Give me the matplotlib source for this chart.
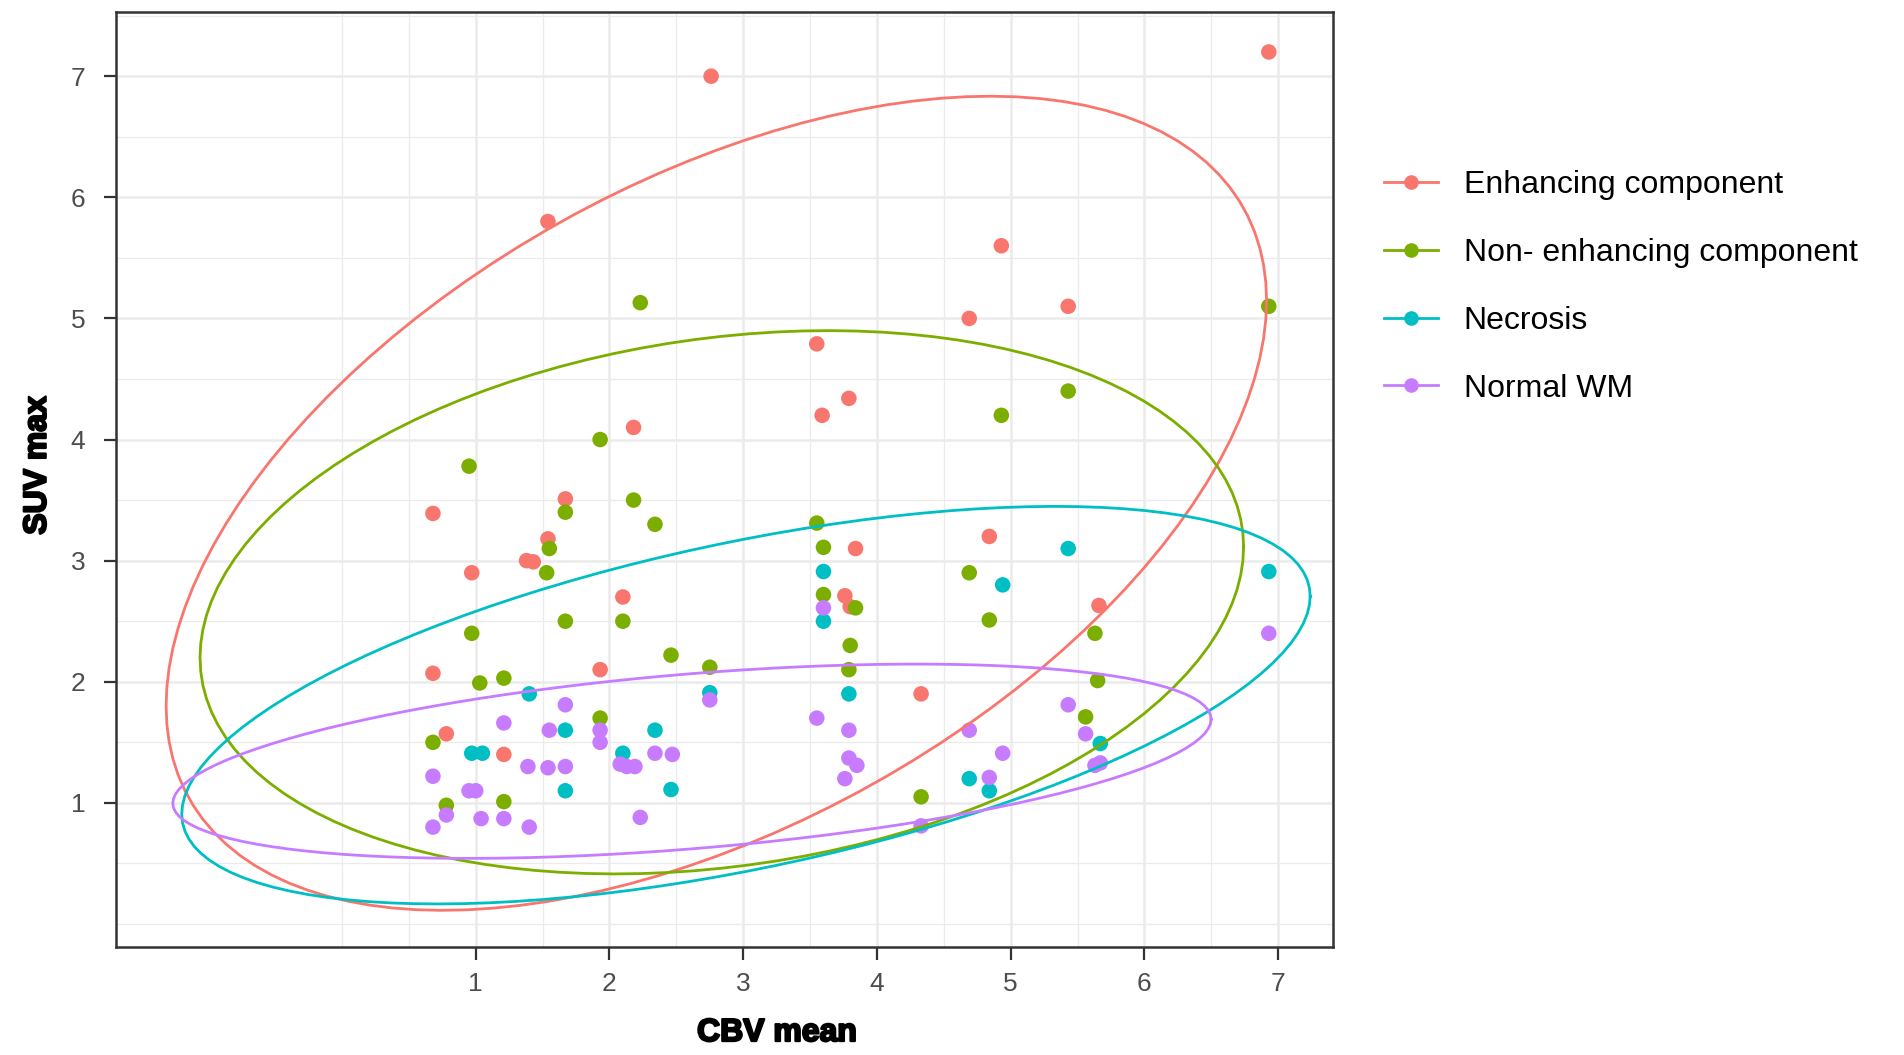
import numpy as np
import matplotlib
matplotlib.use("Agg")
import matplotlib.pyplot as plt
from matplotlib.lines import Line2D
import matplotlib.patheffects as pe

# ---------------- data ----------------
groups = ["Enhancing component", "Non- enhancing component", "Necrosis", "Normal WM"]
colors = ["#F8766D", "#7CAE00", "#00BFC4", "#C77CFF"]

enh_x = [0.68, 1.67, 1.54, 1.38, 1.43, 0.97, 2.10, 0.68, 1.93, 0.78, 1.21, 2.76, 6.93,
         1.54, 4.93, 4.69, 5.43, 3.55, 3.79, 3.59, 2.18, 3.84, 3.76, 3.80, 4.33, 4.84, 5.66]
enh_y = [3.39, 3.51, 3.18, 3.00, 2.99, 2.90, 2.70, 2.07, 2.10, 1.57, 1.40, 7.00, 7.20,
         5.80, 5.60, 5.00, 5.10, 4.79, 4.34, 4.20, 4.10, 3.10, 2.71, 2.62, 1.90, 3.20, 2.63]

non_x = [0.95, 1.67, 2.18, 2.34, 1.55, 1.53, 1.67, 2.10, 0.97, 2.46, 1.03, 1.21, 1.93,
         0.68, 0.78, 1.21, 2.23, 1.93, 3.55, 3.60, 3.60, 3.84, 3.80, 3.79, 2.75, 4.33,
         6.93, 5.43, 4.93, 4.69, 4.84, 5.63, 5.65, 5.56]
non_y = [3.78, 3.40, 3.50, 3.30, 3.10, 2.90, 2.50, 2.50, 2.40, 2.22, 1.99, 2.03, 1.70,
         1.50, 0.98, 1.01, 5.13, 4.00, 3.31, 3.11, 2.72, 2.61, 2.30, 2.10, 2.12, 1.05,
         5.10, 4.40, 4.20, 2.90, 2.51, 2.40, 2.01, 1.71]

nec_x = [1.40, 1.67, 2.34, 0.97, 1.05, 2.10, 1.67, 2.46, 3.60, 3.60, 3.79, 2.75, 5.43,
         4.94, 5.67, 4.69, 4.84, 6.93]
nec_y = [1.90, 1.60, 1.60, 1.41, 1.41, 1.41, 1.10, 1.11, 2.91, 2.50, 1.90, 1.91, 3.10,
         2.80, 1.49, 1.20, 1.10, 2.91]

wm_x = [1.67, 1.21, 1.55, 1.93, 1.93, 2.34, 2.47, 1.39, 1.54, 1.67, 2.08, 2.13, 2.19,
        0.68, 0.95, 1.00, 0.78, 0.68, 1.04, 1.21, 1.40, 2.23, 2.75, 3.60, 3.55, 3.79,
        3.79, 3.85, 3.76, 4.33, 4.69, 4.94, 4.84, 5.43, 5.56, 5.63, 5.67, 6.93]
wm_y = [1.81, 1.66, 1.60, 1.60, 1.50, 1.41, 1.40, 1.30, 1.29, 1.30, 1.32, 1.30, 1.30,
        1.22, 1.10, 1.10, 0.90, 0.80, 0.87, 0.87, 0.80, 0.88, 1.85, 2.61, 1.70, 1.60,
        1.37, 1.31, 1.20, 0.81, 1.60, 1.41, 1.21, 1.81, 1.57, 1.31, 1.33, 2.40]

xs = [enh_x, non_x, nec_x, wm_x]
ys = [enh_y, non_y, nec_y, wm_y]

x_breaks = [1, 2, 3, 4, 5, 6, 7]
y_breaks = [1, 2, 3, 4, 5, 6, 7]
x_limits = (-1.69, 7.41)
y_limits = (-0.19, 7.53)
x_title = "CBV mean"
y_title = "SUV max"


# ---------------- stat_ellipse (type = "t", level = 0.95) ----------------
def cov_trob(X, nu=5, maxit=25, tol=0.01):
    n, p = X.shape
    wt = np.ones(n)
    loc = X.mean(axis=0)
    w = np.sqrt(wt)
    Xc = X - loc
    for _ in range(maxit):
        w0 = w
        Xc = X - loc
        A = np.sqrt(w / w.sum())[:, None] * Xc
        _, d, Vt = np.linalg.svd(A, full_matrices=False)
        wX = Xc @ Vt.T @ np.diag(1.0 / d)
        Q = (wX ** 2).sum(axis=1)
        w = (wt * (nu + p)) / (nu + Q)
        loc = (w[:, None] * X).sum(axis=0) / w.sum()
        if np.all(np.abs(w - w0) < tol):
            break
    sw = np.sqrt(w)[:, None] * Xc
    cov = sw.T @ sw / wt.sum()
    return cov, loc


def ellipse_path(x, y, level=0.95, segments=120):
    X = np.column_stack([x, y]).astype(float)
    cov, center = cov_trob(X)
    R = np.linalg.cholesky(cov).T
    dfd = len(x) - 1
    fq = dfd / 2.0 * ((1 - level) ** (-2.0 / dfd) - 1)
    radius = np.sqrt(2 * fq)
    ang = np.arange(segments + 1) * 2 * np.pi / segments
    circ = np.column_stack([np.cos(ang), np.sin(ang)])
    return center + radius * (circ @ R)


ellipses = [ellipse_path(x, y) for x, y in zip(xs, ys)]

# ---------------- figure ----------------
plt.rcParams["font.family"] = ["Liberation Sans", "DejaVu Sans"]
fig = plt.figure(figsize=(19.04, 10.55), dpi=100)
ax = fig.add_axes([116 / 1904, 1 - 947 / 1055, (1333 - 116) / 1904, (947 - 12) / 1055])

for x, y, c in zip(xs, ys, colors):
    ax.scatter(x, y, s=125, color=c, edgecolors="none", zorder=3)
for e, c in zip(ellipses, colors):
    ax.plot(e[:, 0], e[:, 1], color=c, lw=2.0, zorder=4)

ax.set_xlim(*x_limits)
ax.set_ylim(*y_limits)

ax.set_xticks(x_breaks)
ax.set_yticks(y_breaks)
xlo, xhi = ax.get_xlim()
ylo, yhi = ax.get_ylim()
xminor = [v for v in np.arange(0, 8.01, 0.5) if xlo < v < xhi and v not in x_breaks]
yminor = [v for v in np.arange(0, 8.01, 0.5) if ylo < v < yhi and v not in y_breaks]
ax.set_xticks(xminor, minor=True)
ax.set_yticks(yminor, minor=True)
ax.grid(which="major", color="#EBEBEB", lw=1.8, zorder=0)
ax.grid(which="minor", color="#EBEBEB", lw=0.9, zorder=0)
ax.set_axisbelow(True)
ax.tick_params(which="minor", length=0)
ax.tick_params(which="major", length=9, width=1.6, color="#333333",
               labelcolor="#4D4D4D", labelsize=19, pad=9)
ax.tick_params(axis="y", which="major", pad=13)
for s in ax.spines.values():
    s.set_color("#333333")
    s.set_linewidth(1.8)

stroke = [pe.withStroke(linewidth=1.6, foreground="black")]
ax.set_xlabel(x_title, fontsize=23, fontweight="bold", color="black", path_effects=stroke)
ax.set_ylabel(y_title, fontsize=23, fontweight="bold", color="black", path_effects=stroke)
ax.xaxis.set_label_coords((777 - 116) / 1217, -0.076)
ax.yaxis.set_label_coords(-0.052, 0.515)

handles = [Line2D([0], [0], color=c, lw=2.0, marker="o", markersize=10.5,
                  markeredgewidth=0) for c in colors]
fig.legend(handles, groups, loc="center left", bbox_to_anchor=(1384 / 1904, 1 - 287 / 1055),
           frameon=False, fontsize=23, handlelength=1.7, handletextpad=0.8,
           labelspacing=1.18, borderpad=0, borderaxespad=0)

fig.savefig("out.png", dpi=100)
